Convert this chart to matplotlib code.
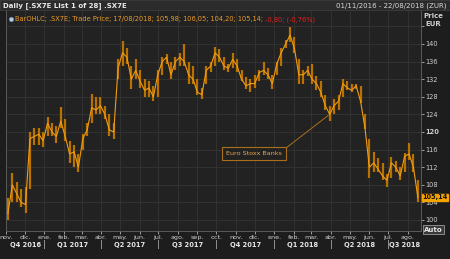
import matplotlib
matplotlib.use("Agg")
import matplotlib.pyplot as plt
import matplotlib.dates as mdates
from matplotlib.patches import Rectangle
import pandas as pd

W, H = 450, 259

# weekly bars (Friday)
week_end = pd.date_range("2016-11-04", "2018-08-17", freq="W-FRI")

closes = [
    101.5, 108, 106, 104, 103.5, 118.5, 119, 119.5, 118,
    122, 120, 119, 122.5, 119, 115, 115.5, 112, 118.5, 120.5, 125.5, 125, 126,
    124, 120.5, 120, 134.5, 138, 137, 132, 134, 131.5, 129.5, 130, 128, 133,
    136, 137, 133, 136, 137, 136, 133, 132, 129, 128.5, 134, 135, 138,
    137, 135, 134.5, 136.5, 135, 132, 130.5, 131, 131, 133.5, 134, 133, 131,
    135.5, 138, 140, 142, 139, 133, 133, 134, 132, 131, 129, 126, 124,
    126, 127, 131, 130, 129.5, 130.5, 127, 121, 112, 113, 111.5, 110, 109,
    113, 112, 110, 114.5, 115, 112, 105.14,
]
lows = [
    100, 104, 104, 103, 101.6, 107, 117, 117, 116.7,
    119, 119, 117.6, 121, 118, 113, 112, 111, 116, 119, 122, 124, 124,
    123, 119, 118.5, 132, 135, 135.5, 129.7, 132, 130, 128, 128, 127, 128,
    133, 135.5, 132, 134, 135, 135, 131, 131, 128.5, 127.4, 131, 133.6, 135,
    136, 134, 133.6, 134.5, 133.6, 131.5, 129.7, 129, 130, 131.5, 133, 132, 129.7,
    133, 135, 139, 140.5, 138, 131, 130.8, 132.7, 131, 129.5, 128, 125, 122.4,
    124, 125, 128, 129.5, 129, 129.7, 126.7, 120.6, 109.6, 111, 110.8, 109, 107.5,
    109.5, 111, 109, 111, 113.7, 111, 104.2,
]
highs = [
    105, 110.7, 108.7, 107, 107.5, 120, 121, 121, 120,
    123.5, 122, 121.3, 125.6, 122.9, 118, 117, 115, 119.5, 122, 128.6, 127.9, 128,
    126, 124, 122, 136.5, 140.7, 139, 135, 136.6, 134, 132, 131.5, 130.5, 134,
    137, 137.7, 136, 137, 138, 140, 136, 135, 132, 130, 135, 136, 139.3,
    138.9, 137, 135.5, 138, 136.5, 134, 132.5, 132, 133, 134, 136, 134.5, 133,
    136, 139, 141, 143.9, 141.5, 136.6, 134, 135, 135.5, 132.7, 131.6, 128.5, 126,
    127.5, 128.5, 132, 131.5, 131, 131, 130.5, 124, 118.3, 115.5, 114, 113, 110.5,
    114.4, 113.5, 112, 115.3, 117.6, 115, 109,
]

month_names = ["ene.", "feb.", "mar.", "abr.", "may.", "jun.",
               "jul.", "ago.", "sep.", "oct.", "nov.", "dic."]
quarter_labels = ["Q4 2016", "Q1 2017", "Q2 2017", "Q3 2017",
                  "Q4 2017", "Q1 2018", "Q2 2018", "Q3 2018"]
y_ticks = [100, 104, 108, 112, 116, 120, 124, 128, 132, 136, 140, 144]

start, end = pd.Timestamp("2016-11-01"), pd.Timestamp("2018-08-22")

BG = "#1d1d1d"
PLOT_BG = "#222222"
GRID = "#323232"
TXT = "#cfcfcf"
ORANGE = "#f39c12"
DARK_OR = "#b97200"


def fx(x):
    return x / W


def fy(y):
    return 1 - y / H


fig = plt.figure(figsize=(W / 100, H / 100), dpi=100, facecolor=BG)
fig.patches.append(Rectangle((0, fy(10)), 1, 10 / H, transform=fig.transFigure,
                             facecolor="#2b2b2b", edgecolor="#3c3c3c", lw=0.6))

ax = fig.add_axes([fx(6), fy(231), fx(421 - 6), (231 - 11) / H])
ax.set_facecolor(PLOT_BG)

ax.vlines(week_end, lows, highs, color=DARK_OR, lw=1.6)
ax.plot(week_end, closes, color=ORANGE, lw=0.8)

ax.set_xlim(start, end)
ax.set_ylim(97.5, 147.5)

# y axis on the right
ax.yaxis.tick_right()
ax.set_yticks(y_ticks)
ax.set_yticklabels([str(v) if v < 144 else "" for v in y_ticks])
for lbl in ax.get_yticklabels():
    if lbl.get_text() == "120":
        lbl.set_fontweight("bold")
ax.tick_params(axis="y", colors=TXT, labelsize=4.8, length=2, pad=1, width=0.5)

# month ticks
ax.xaxis.set_major_locator(mdates.MonthLocator())
ax.xaxis.set_major_formatter(
    plt.FuncFormatter(lambda v, p: month_names[mdates.num2date(v).month - 1]))
ax.tick_params(axis="x", colors=TXT, labelsize=4.6, length=2, pad=0.8, width=0.5)

ax.grid(True, color=GRID, lw=0.7)
ax.set_axisbelow(True)
ax.spines["top"].set_visible(False)
for s in ["left", "right", "bottom"]:
    ax.spines[s].set_color("#5a5a5a")
    ax.spines[s].set_linewidth(0.7)

# quarter labels + separators
q_starts = pd.date_range("2016-10-01", "2018-07-01", freq="QS")
trans = ax.get_xaxis_transform()
for i, q in enumerate(q_starts):
    lo = max(q, start)
    hi = min(q + pd.offsets.QuarterBegin(startingMonth=1), end)
    mid = lo + (hi - lo) / 2
    ax.text(mid, -0.062, quarter_labels[i], transform=trans, ha="center",
            va="center", fontsize=4.8, fontweight="bold", color="#e6e6e6")
    if q > start:
        ax.text(q, -0.062, "|", transform=trans, ha="center", va="center",
                fontsize=5.5, color="#d0d0d0")

# annotation
ax.annotate("Euro Stoxx Banks", xy=(pd.Timestamp("2018-03-28"), 123.8),
            xytext=(pd.Timestamp("2017-11-30"), 115.1),
            ha="center", va="center", fontsize=4.6, color="#e8a545",
            bbox=dict(boxstyle="square,pad=0.6", fc=PLOT_BG, ec="#a8701c", lw=0.8),
            arrowprops=dict(arrowstyle="-", color="#a8701c", lw=0.7,
                            relpos=(1, 1), shrinkA=0, shrinkB=0))

# last price flag
ax.annotate("105,14", xy=(1, closes[-1]), xycoords=("axes fraction", "data"),
            xytext=(1, 0), textcoords="offset points", ha="left", va="center",
            fontsize=4.7, fontweight="bold", color="#111111", annotation_clip=False,
            bbox=dict(boxstyle="square,pad=0.12", fc="#f5a300", ec="#f5a300"))

# header
fig.text(fx(3), fy(5.5), "Daily [.SX7E List 1 of 28] .SX7E", fontsize=5,
         fontweight="bold", color="#e8e8e8", va="center")
fig.text(fx(447), fy(5.5), "01/11/2016 - 22/08/2018 (ZUR)", fontsize=5,
         color="#d8d8d8", va="center", ha="right")
ax.plot([0.012], [0.962], "o", transform=ax.transAxes, ms=3.2,
        color="#b8c8e0", mec="#6f88aa", mew=0.5)
t1 = ax.text(0.022, 0.962, "BarOHLC; .SX7E; Trade Price; 17/08/2018; 105,98; 106,05; 104,20; 105,14;",
             transform=ax.transAxes, fontsize=4.8, color="#e89b2a", va="center")
ax.annotate(" -0,80; (-0,76%)", xy=(1, 0.5), xycoords=t1, va="center",
            fontsize=4.8, color="#e02020")
fig.text(fx(433), fy(16), "Price", fontsize=5, fontweight="bold", color=TXT,
         ha="center", va="center")
fig.text(fx(433), fy(24.5), "EUR", fontsize=5, fontweight="bold", color=TXT,
         ha="center", va="center")
fig.text(fx(433.5), fy(229.5), "Auto", fontsize=5, fontweight="bold", color="#e8e8e8",
         ha="center", va="center",
         bbox=dict(boxstyle="square,pad=0.15", fc="#3a3a3a", ec="#9a9a9a", lw=0.6))

fig.savefig("out.png", dpi=100, facecolor=BG)
